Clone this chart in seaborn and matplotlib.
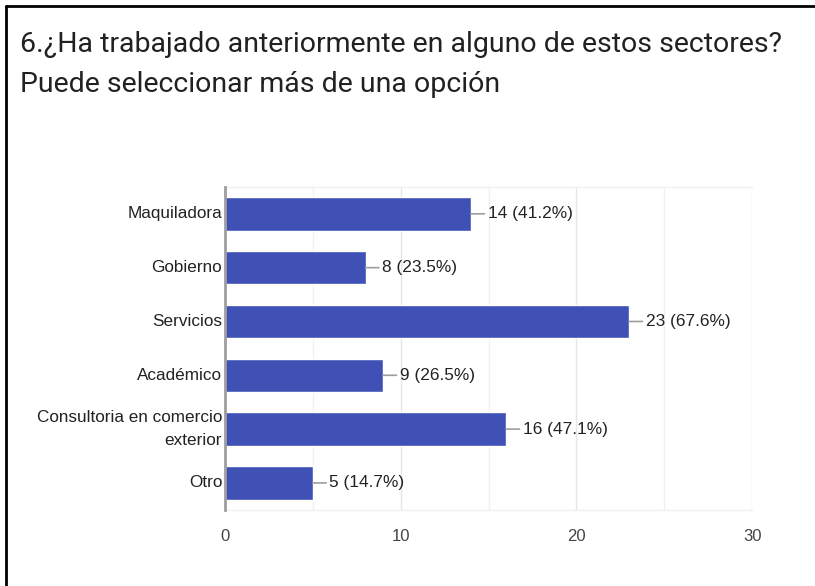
import matplotlib
matplotlib.use("Agg")
import matplotlib.pyplot as plt
import seaborn as sns
import pandas as pd
from matplotlib.lines import Line2D

# data
sectores = ["Maquiladora", "Gobierno", "Servicios", "Académico",
            "Consultoria en comercio\nexterior", "Otro"]
respuestas = [14, 8, 23, 9, 16, 5]
total = 34
x_ticks = [0, 10, 20, 30]

titulo = "6.¿Ha trabajado anteriormente en alguno de estos sectores?\nPuede seleccionar más de una opción"

df = pd.DataFrame({"sector": sectores, "n": respuestas})

sns.set_style("white")
plt.rcParams["font.family"] = ["Liberation Sans", "DejaVu Sans"]

fig = plt.figure(figsize=(8.15, 5.86), dpi=100)
ax = fig.add_axes([0.276, 0.130, 0.647, 0.551])

sns.barplot(data=df, x="n", y="sector", orient="h", color="#3F51B5",
            saturation=1, width=0.62, ax=ax)

ax.set_xlim(0, 30)
ax.set_xticks(x_ticks)
ax.set_xticks([5, 15, 25], minor=True)
ax.grid(axis="x", which="major", color="#e6e6e6", linewidth=1)
ax.grid(axis="x", which="minor", color="#f0f0f0", linewidth=1)
ax.set_axisbelow(True)
ax.set_xlabel("")
ax.set_ylabel("")
ax.spines["right"].set_visible(False)
for s in ["top", "bottom"]:
    ax.spines[s].set_color("#f0f0f0")
    ax.spines[s].set_linewidth(1)
ax.spines["left"].set_color("#9e9e9e")
ax.spines["left"].set_linewidth(2)
ax.spines["left"].set_zorder(5)
ax.tick_params(axis="both", which="both", length=0)
ax.tick_params(axis="x", labelsize=12, labelcolor="#444444", pad=14)
ax.set_yticks(range(len(sectores)))
ax.set_yticklabels(sectores, fontsize=12.3, color="#222222", va="center",
                   ha="right", multialignment="right", linespacing=1.6)
ax.tick_params(axis="y", pad=2)

for i, v in enumerate(respuestas):
    ax.annotate(f"{v} ({v / total * 100:.1f}%)", xy=(v, i), xytext=(12, 0),
                textcoords="offset points", ha="left", va="center",
                fontsize=12.4, color="#222222",
                arrowprops=dict(arrowstyle="-", color="#9e9e9e", lw=1.2,
                                shrinkA=0, shrinkB=0))

fig.text(20 / 815, 1 - 31 / 586, titulo, ha="left", va="top",
         fontsize=20.5, family="Roboto", color="#212121", linespacing=1.6)

# outer frame of the screenshot (top and left edges)
fig.add_artist(Line2D([6 / 815, 1], [1 - 6 / 586, 1 - 6 / 586],
                      transform=fig.transFigure, color="black", lw=2))
fig.add_artist(Line2D([6 / 815, 6 / 815], [0, 1 - 6 / 586],
                      transform=fig.transFigure, color="black", lw=2))

fig.savefig("out.png", dpi=100)
